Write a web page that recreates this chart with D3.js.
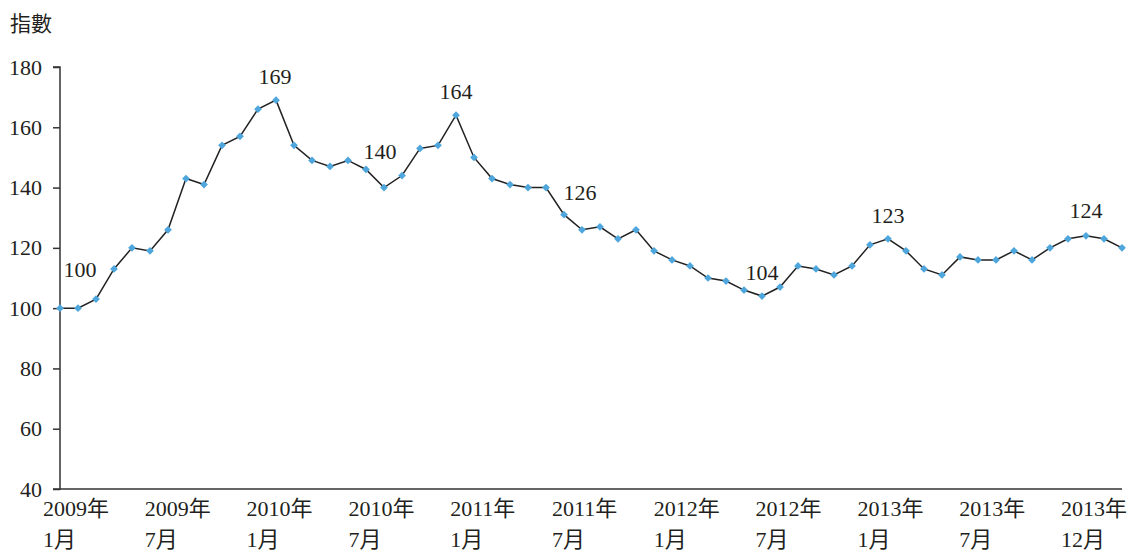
<!DOCTYPE html>
<html>
<head>
<meta charset="utf-8">
<script src="https://cdn.jsdelivr.net/npm/d3@7"></script>
<style>
  body { margin: 0; background: #fff; }
  text { font-family: "Liberation Serif", "Noto Sans CJK TC", serif; fill: #231f20; }
</style>
</head>
<body>
<div id="chart-area"></div>
<script>
// monthly index, 2009-01 .. 2013-12
var years = [2009, 2010, 2011, 2012, 2013];
var months = [];
years.forEach((y)=>{ for (var m = 1; m <= 12; m++) months.push(y + "-" + m); });

var values = [
  100, 100, 103, 113, 120, 119, 126, 143, 141, 154, 157, 166,
  169, 154, 149, 147, 149, 146, 140, 144, 153, 154, 164, 150,
  143, 141, 140, 140, 131, 126, 127, 123, 126, 119, 116, 114,
  110, 109, 106, 104, 107, 114, 113, 111, 114, 121, 123, 119,
  113, 111, 117, 116, 116, 119, 116, 120, 123, 124, 123, 120
];

var xLabels = [
  ["2009年", "1月"], ["2009年", "7月"], ["2010年", "1月"], ["2010年", "7月"],
  ["2011年", "1月"], ["2011年", "7月"], ["2012年", "1月"], ["2012年", "7月"],
  ["2013年", "1月"], ["2013年", "7月"], ["2013年", "12月"]
];

var yTicks = [40, 60, 80, 100, 120, 140, 160, 180];

// which points carry a value label
var labelIdx = [0, 12, 18, 22, 29, 39, 46, 57];
// label offsets (style only)
var labelOff = { 0: [20, -31], 12: [-1, -16], 18: [-4, -29], 22: [0, -16],
                 29: [-2, -30], 39: [0, -16], 46: [0, -16], 57: [0, -18] };

var w = 1129, h = 552;
var svg = d3.select("#chart-area").append("svg")
  .attr("width", w)
  .attr("height", h);

var x = d3.scalePoint()
  .domain(months)
  .range([60, 1122]);

var y = d3.scaleLinear()
  .domain([40, 180])
  .range([489, 67]);

// y axis
var left = d3.axisLeft(y)
  .tickValues(yTicks)
  .tickSize(7)
  .tickPadding(11);

var gy = svg.append("g")
  .attr("transform", "translate(" + x(months[0]) + ",0)")
  .call(left);
gy.select(".domain").attr("stroke", "#333").attr("stroke-width", 1.5).attr("d", "M-7," + y(180) + "H0V" + y(40) + "H-7");
gy.selectAll(".tick line").attr("stroke", "#333").attr("stroke-width", 1.5);
gy.selectAll(".tick text").attr("font-size", "22px").attr("fill", "#231f20")
  .attr("font-family", "Liberation Serif");

// x axis line
svg.append("line")
  .attr("x1", x(months[0])).attr("x2", x(months[months.length - 1]))
  .attr("y1", y(40)).attr("y2", y(40))
  .attr("stroke", "#333").attr("stroke-width", 1.5);

// x labels, evenly spread
var xl = d3.scalePoint()
  .domain(d3.range(xLabels.length))
  .range([x(months[0]) - 17, x(months[months.length - 1]) - 61]);

var gx = svg.append("g").selectAll("text")
  .data(xLabels)
  .enter().append("text")
    .attr("x", (d, i)=>{ return xl(i); })
    .attr("y", y(40) + 27)
    .attr("font-size", "22px");
gx.append("tspan").text((d)=>{ return d[0]; });
gx.append("tspan")
  .attr("x", (d, i)=>{ return xl(i); })
  .attr("dy", 31)
  .text((d)=>{ return d[1]; });

// axis title
svg.append("text")
  .attr("x", 10)
  .attr("y", 31)
  .attr("font-size", "21px")
  .attr("font-family", "Noto Sans CJK TC")
  .text("指數");

// line
var line = d3.line()
  .x((d, i)=>{ return x(months[i]); })
  .y((d)=>{ return y(d); });

svg.append("path")
  .datum(values)
  .attr("d", line)
  .attr("fill", "none")
  .attr("stroke", "#222")
  .attr("stroke-width", 1.5);

// markers
var diamond = d3.symbol().type(d3.symbolSquare).size(30);
svg.append("g").selectAll("path")
  .data(values)
  .enter().append("path")
    .attr("d", diamond)
    .attr("transform", (d, i)=>{ return "translate(" + x(months[i]) + "," + y(d) + ") rotate(45)"; })
    .attr("fill", "#4ea6dc");

// value labels
svg.append("g").selectAll("text")
  .data(labelIdx)
  .enter().append("text")
    .attr("x", (i)=>{ return x(months[i]) + labelOff[i][0]; })
    .attr("y", (i)=>{ return y(values[i]) + labelOff[i][1]; })
    .attr("text-anchor", "middle")
    .attr("font-size", "22px")
    .text((i)=>{ return values[i]; });
</script>
</body>
</html>
